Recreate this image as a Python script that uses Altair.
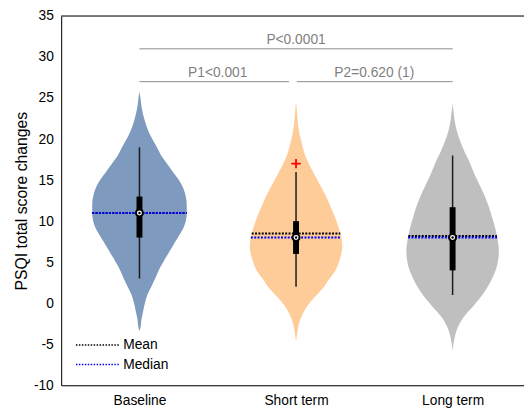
import altair as alt
import pandas as pd
import numpy as np

# ---------------- data ----------------
groups = ["Baseline", "Short term", "Long term"]
positions = [1, 2, 3]
colors = ["#7f9abf", "#fecc99", "#bfbfbf"]

# violin outlines: score levels and relative density (half-width)
base_levels = [25.8, 25, 24, 23, 22, 21, 20, 19, 18, 17, 16, 15, 14, 13, 12, 11, 10,
               9, 8, 7, 6, 5, 4, 3, 2, 1, 0, -1, -2, -3, -3.4]
base_density = [0, 1, 2, 3.7, 6, 9, 13, 17.7, 22, 28, 34, 40, 44.5, 47, 48, 48, 47,
                44, 39, 34, 29, 24, 19.5, 16, 12, 8, 5.5, 3.7, 2, 1, 0]

short_levels = [24.6, 23.5, 22.5, 21.5, 20.5, 19.5, 18.5, 17.5, 16.5, 15.5, 14.5, 13.5,
                12.5, 11.5, 10.5, 9.5, 8.5, 7.5, 7, 6, 5, 4, 3, 2, 1, 0, -1, -2, -3, -4, -4.6]
short_density = [0, 0.8, 1.5, 2.3, 3.8, 5.8, 8, 11, 15, 19.5, 24, 28.5,
                 32.5, 36, 39.5, 42.5, 45, 46.7, 47, 46, 43.5, 40, 34, 28.5, 21, 13.5, 8, 4.3, 2, 0.8, 0]

long_levels = [24.4, 23.5, 22.5, 21.5, 20.5, 19.5, 18.5, 17.5, 16.5, 15.5, 14.5, 13.5,
               12.5, 11.5, 10.5, 9.5, 8.5, 7.5, 6.5, 5.5, 4.5, 3.5, 2.5, 1.5, 0.5, -0.5,
               -1.5, -2.5, -3.5, -4.5, -5.8]
long_density = [0, 0.8, 1.8, 3.2, 5.5, 8.5, 12, 16, 19.5, 23, 27, 31,
                34.5, 37.5, 40, 42.5, 44.5, 46, 47, 46.5, 45, 42, 38, 33, 27, 20,
                12.5, 7, 3.5, 1.5, 0]

# box-plot statistics
medians = [11, 8, 8]
means = [11, 8.5, 8.2]
q1 = [8, 6, 4]
q3 = [13, 10, 11.7]
whisker_lo = [3, 2, 1]
whisker_hi = [19, 16, 18]
outlier_group = ["Short term"]
outlier_value = [17]

# significance brackets
bracket_labels = ["P<0.0001", "P1<0.001", "P2=0.620 (1)"]
bracket_y = [31, 27, 27]
bracket_from = [1, 1, 2.005]
bracket_to = [3, 1.955, 3]
bracket_text_x = [2, 1.5, 2.5]

legend_labels = ["Mean", "Median"]

# ---------------- build tables ----------------
DENS_TO_X = 1 / 159.0  # density units -> x units (violin half-width)
levels = [base_levels, short_levels, long_levels]
dens = [base_density, short_density, long_density]

rows = []
for g, p, lv, dn in zip(groups, positions, levels, dens):
    for v, d in sorted(zip(lv, dn)):
        hw = d * DENS_TO_X
        rows.append(dict(group=g, v=v, lo=p - hw, hi=p + hw))
vdf = pd.DataFrame(rows)


def hw_at(lv, dn, val):
    order = np.argsort(lv)
    return float(np.interp(val, np.array(lv)[order], np.array(dn)[order])) * DENS_TO_X


srows = []
for i, g in enumerate(groups):
    hm = hw_at(levels[i], dens[i], means[i])
    hd = hw_at(levels[i], dens[i], medians[i])
    srows.append(dict(group=g, pos=positions[i], q1=q1[i], q3=q3[i], wlo=whisker_lo[i],
                      whi=whisker_hi[i], median=medians[i], mean=means[i],
                      mlo=positions[i] - hm, mhi=positions[i] + hm,
                      dlo=positions[i] - hd, dhi=positions[i] + hd))
sdf = pd.DataFrame(srows)

odf = pd.DataFrame(dict(group=outlier_group, value=outlier_value,
                        pos=[positions[groups.index(g)] for g in outlier_group]))

bdf = pd.DataFrame(dict(label=bracket_labels, y=bracket_y, x1=bracket_from, x2=bracket_to,
                        xm=bracket_text_x))

ldf = pd.DataFrame(dict(label=legend_labels))

# ---------------- scales / axes ----------------
W, H = 470, 375
FONT = "Liberation Sans"
xs = alt.Scale(domain=[0.5, 0.5 + W / 159.0], nice=False, zero=False)
ys = alt.Scale(domain=[-10, 35], nice=False, zero=False)

label_expr = " : ".join(
    f"datum.value == {p} ? '{g}'" for p, g in zip(positions, groups)) + " : ''"

xaxis = alt.Axis(values=positions, labelExpr=label_expr, title=None, ticks=False,
                 grid=False, labelFontSize=14, labelPadding=9, domainColor="#000000",
                 labelColor="#000000", labelFont=FONT)
yaxis = alt.Axis(values=list(range(-10, 40, 5)), title="PSQI total score changes",
                 labelExpr="toString(datum.value)",
                 ticks=False, grid=False, labelFontSize=14, labelPadding=8,
                 titleFontSize=16, titleFontWeight="normal", titlePadding=4,
                 domainColor="#000000", labelColor="#000000", titleColor="#000000",
                 labelFont=FONT, titleFont=FONT)


def X(field):
    return alt.X(field, scale=xs, axis=xaxis)


def Y(field):
    return alt.Y(field, scale=ys, axis=yaxis)


violin = alt.Chart(vdf).mark_area(orient="horizontal", interpolate="monotone").encode(
    y=Y("v:Q"),
    x=X("lo:Q"),
    x2="hi:Q",
    color=alt.Color("group:N", scale=alt.Scale(domain=groups, range=colors), legend=None),
    detail="group:N",
)

base = alt.Chart(sdf)
whisk = base.mark_rule(color="#1a1a1a", strokeWidth=1.5).encode(
    x=X("pos:Q"), y=Y("wlo:Q"), y2="whi:Q")
box = base.mark_rule(color="black", strokeWidth=6, strokeCap="butt").encode(
    x=X("pos:Q"), y=Y("q1:Q"), y2="q3:Q")
mean_line = base.mark_rule(color="black", strokeWidth=2, strokeDash=[2, 1.4]).encode(
    x=X("mlo:Q"), x2="mhi:Q", y=Y("mean:Q"))
med_line = base.mark_rule(color="#0000ff", strokeWidth=2, strokeDash=[2, 1.4]).encode(
    x=X("dlo:Q"), x2="dhi:Q", y=Y("median:Q"))
med_circle = base.mark_point(shape="circle", filled=True, fill="white", stroke="black",
                             strokeWidth=2, size=50, opacity=1).encode(
    x=X("pos:Q"), y=Y("median:Q"))
med_dot = base.mark_point(shape="circle", filled=True, color="black", size=6, opacity=1).encode(
    x=X("pos:Q"), y=Y("median:Q"))

outl = alt.Chart(odf).mark_point(shape="M-1,0L1,0M0,-1L0,1", filled=False, color="red",
                                 strokeWidth=1.8, size=90, opacity=1).encode(
    x=X("pos:Q"), y=Y("value:Q"))

brk = alt.Chart(bdf).mark_rule(color="#8c8c8c", strokeWidth=1).encode(
    x=X("x1:Q"), x2="x2:Q", y=Y("y:Q"))
brk_txt = alt.Chart(bdf).mark_text(color="#7f7f7f", fontSize=14, font=FONT, dy=-5,
                                   baseline="alphabetic", align="center").encode(
    x=X("xm:Q"), y=Y("y:Q"), text="label:N")

top_spine = alt.Chart(bdf.head(1)).mark_rule(color="#000000", strokeWidth=1).encode(
    x=alt.value(0), x2=alt.value(W), y=alt.value(0))

leg_mean = alt.Chart(ldf.head(1)).mark_rule(color="black", strokeWidth=1.5,
                                            strokeDash=[1.5, 1.5]).encode(
    x=alt.value(15), x2=alt.value(60), y=alt.value(334))
leg_med = alt.Chart(ldf.tail(1)).mark_rule(color="#0000ff", strokeWidth=1.5,
                                           strokeDash=[1.5, 1.5]).encode(
    x=alt.value(15), x2=alt.value(60), y=alt.value(354))
leg_txt1 = alt.Chart(ldf.head(1)).mark_text(fontSize=14, font=FONT, align="left",
                                            baseline="middle", color="black").encode(
    x=alt.value(63), y=alt.value(334), text="label:N")
leg_txt2 = alt.Chart(ldf.tail(1)).mark_text(fontSize=14, font=FONT, align="left",
                                            baseline="middle", color="black").encode(
    x=alt.value(63), y=alt.value(354), text="label:N")

chart = alt.layer(
    violin, brk, brk_txt, whisk, box, mean_line, med_line, med_circle, med_dot, outl,
    top_spine, leg_mean, leg_med, leg_txt1, leg_txt2,
).properties(
    width=W, height=H, autosize="none",
    padding={"left": 54, "top": 5, "right": 0, "bottom": 22},
).configure_view(stroke=None).configure(background="white")

chart.save("out.html", embed_options={"renderer": "svg", "actions": False})
